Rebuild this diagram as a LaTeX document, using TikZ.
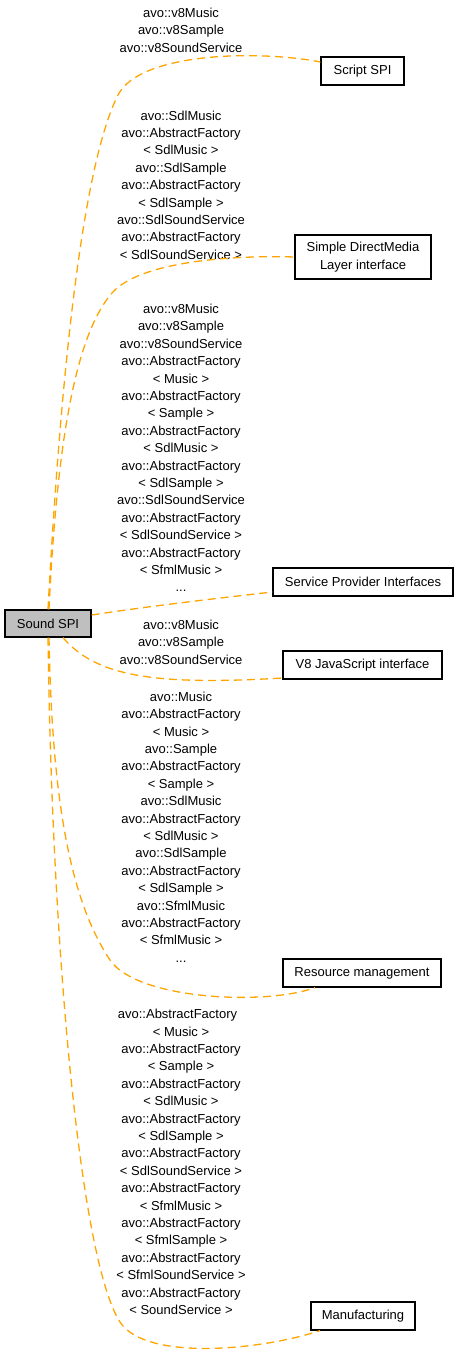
\documentclass[tikz,border=0pt]{standalone}
\usepackage{fontspec}
\setmainfont{Liberation Sans}
\definecolor{edgeorange}{HTML}{FFA500}
\definecolor{boxgray}{HTML}{BFBFBF}
\newcommand{\AFx}{avo::AbstractFactory\hspace*{7pt}}
\begin{document}
\begin{tikzpicture}[x=1pt,y=-1pt,
  txt/.style={font=\fontsize{13}{17.4}\selectfont},
  box/.style={draw=black, line width=1.2pt, inner sep=0pt, align=center, txt},
  lbl/.style={align=center, inner sep=0pt, txt},
  link/.style={draw=edgeorange, line width=1.3pt, dash pattern=on 8pt off 5pt}]
\useasboundingbox (0,0) rectangle (459,1356);

\node[box, fill=boxgray, minimum width=86pt, minimum height=27pt] (sound) at (48,623.5) {Sound SPI};
\node[box, minimum width=83pt, minimum height=28pt] (script) at (362.5,71) {Script SPI};
\node[box, minimum width=136pt, minimum height=44pt] (sdl) at (363,257) {Simple DirectMedia\\Layer interface};
\node[box, minimum width=180pt, minimum height=28pt] (spi) at (363,582) {Service Provider Interfaces};
\node[box, minimum width=159pt, minimum height=28pt] (v8) at (362.5,665) {V8 JavaScript interface};
\node[box, minimum width=158pt, minimum height=28pt] (res) at (362,973) {Resource management};
\node[box, minimum width=104pt, minimum height=28pt] (manu) at (363,1316) {Manufacturing};

\node[lbl] (l1) at (181,30) {avo::v8Music\\avo::v8Sample\\avo::v8SoundService};
\node[lbl] (l2) at (181,185) {avo::SdlMusic\\\AFx\\{}< SdlMusic >\\avo::SdlSample\\\AFx\\{}< SdlSample >\\avo::SdlSoundService\\\AFx\\{}< SdlSoundService >};
\node[lbl] (l3) at (181,448) {avo::v8Music\\avo::v8Sample\\avo::v8SoundService\\\AFx\\{}< Music >\\\AFx\\{}< Sample >\\\AFx\\{}< SdlMusic >\\\AFx\\{}< SdlSample >\\avo::SdlSoundService\\\AFx\\{}< SdlSoundService >\\\AFx\\{}< SfmlMusic >\\...};
\node[lbl] (l4) at (181,642) {avo::v8Music\\avo::v8Sample\\avo::v8SoundService};
\node[lbl] (l5) at (181,827) {avo::Music\\avo::AbstractFactory\\{}< Music >\\avo::Sample\\avo::AbstractFactory\\{}< Sample >\\avo::SdlMusic\\avo::AbstractFactory\\{}< SdlMusic >\\avo::SdlSample\\avo::AbstractFactory\\{}< SdlSample >\\avo::SfmlMusic\\avo::AbstractFactory\\{}< SfmlMusic >\\...};
\node[lbl] (l6) at (181,1162) {\AFx\\{}< Music >\\\AFx\\{}< Sample >\\\AFx\\{}< SdlMusic >\\\AFx\\{}< SdlSample >\\\AFx\\{}< SdlSoundService >\\\AFx\\{}< SfmlMusic >\\\AFx\\{}< SfmlSample >\\\AFx\\{}< SfmlSoundService >\\\AFx\\{}< SoundService >};

\path[link] (sound.north) .. controls +(14,-260) and +(-33,65) .. (118,95)
  .. controls +(22,-43) and +(-61,-12) .. (script.west |- 0,62);
\path[link] ([xshift=1pt]sound.north) .. controls +(9,-190) and +(-32,37) .. (112,293)
  .. controls +(27,-31) and +(-65,-2) .. (sdl.west);
\path[link] (sound.east |- 0,615) .. controls (150,606) and (220,598) .. (spi.south west |- 0,592);
\path[link] ([xshift=15pt]sound.south) .. controls (95,675) and (150,686) .. (v8.south west |- 0,678);
\path[link] ([xshift=1pt]sound.south) .. controls +(3,162) and +(-40,-60) .. (110,960)
  .. controls +(27,40) and +(-48,18) .. (res.south -| 315,0);
\path[link] (sound.south) .. controls +(4,312) and +(-40,-62) .. (120,1322)
  .. controls +(25,39) and +(-60,20) .. (manu.south -| 320,0);
\end{tikzpicture}
\end{document}
